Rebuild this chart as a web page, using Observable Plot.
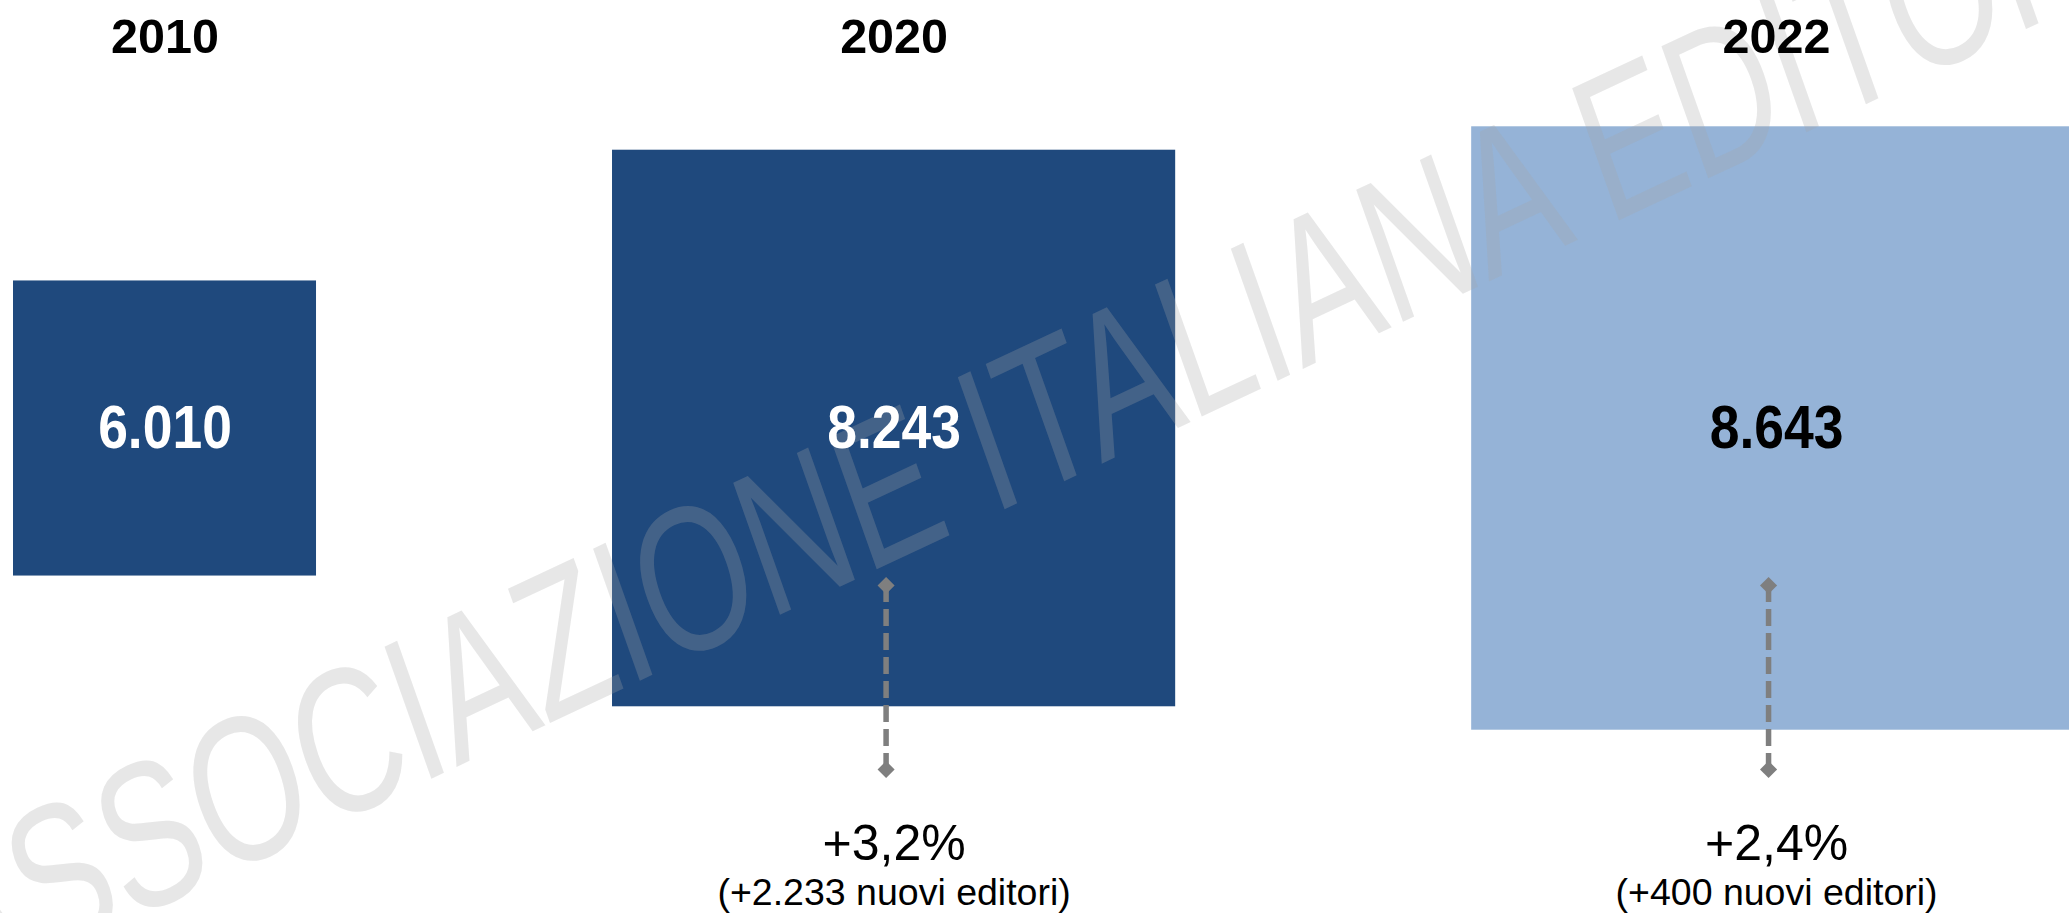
<!DOCTYPE html>
<html><head><meta charset="utf-8">
<script src="https://cdn.jsdelivr.net/npm/d3@7"></script>
<script src="https://cdn.jsdelivr.net/npm/@observablehq/plot@0.6"></script>
<style>
html,body{margin:0;padding:0;background:#fff;overflow:hidden}
svg{display:block}
</style></head><body><div id="chart"></div>
<script>
// ---- data ----
const years = ["2010", "2020", "2022"];
const editori = [6010, 8243, 8643];
const valueLabels = ["6.010", "8.243", "8.643"];
const growthPct = ["", "+3,2%", "+2,4%"];
const growthNew = ["", "(+2.233 nuovi editori)", "(+400 nuovi editori)"];
const watermarkText = "ASSOCIAZIONE ITALIANA EDITORI";

// ---- layout / style ----
const W = 2069, H = 913;
const palette = ["#1f497d", "#1f497d", "#95b3d7"];
const PXX = 0.1165, BASEX = 3409;   // square width:  px per editor, editors at zero width
const PXY = 0.1171, BASEY = 3490;   // square height: px per editor, editors at zero height
const ux = px => px / PXX, uy = px => px / PXY;
const GAP = ux(296), LEFT = ux(13), MID = uy(428);
const FONT = "'Liberation Sans', Arial, Helvetica, sans-serif";

let cursor = LEFT;
const data = years.map((year, i) => {
  const w = editori[i] - BASEX, h = editori[i] - BASEY;
  const x1 = cursor, x2 = cursor + w;
  cursor = x2 + GAP;
  return {year, value: editori[i], label: valueLabels[i], pct: growthPct[i], nuovi: growthNew[i],
          light: d3.hsl(palette[i]).l > 0.5,
          x1, x2, xc: (x1 + x2) / 2, y1: MID - h / 2, y2: MID + h / 2};
});
const growth = data.filter(d => d.pct);
const ends = growth.flatMap(d => [{xc: d.xc, y: MID + uy(157)}, {xc: d.xc, y: MID + uy(341)}]);

const watermarkMark = () => d3.create("svg:text")
    .attr("transform", "matrix(1.34,-0.63,0.68,1.92,-50,1005)")
    .attr("text-anchor", "start")
    .attr("font-family", FONT)
    .attr("font-size", 100)
    .attr("fill", "#a8a8a8")
    .attr("fill-opacity", 0.27)
    .text(watermarkText)
    .node();

const chart = Plot.plot({
  width: W, height: H, margin: 0,
  x: {type: "linear", domain: [0, ux(W)], range: [0, W], axis: null},
  y: {type: "linear", domain: [0, uy(H)], range: [0, H], axis: null},
  color: {type: "ordinal", domain: years, range: palette},
  style: {fontFamily: FONT, background: "#fff", overflow: "hidden"},
  marks: [
    Plot.rect(data, {x1: "x1", x2: "x2", y1: "y1", y2: "y2", fill: "year"}),
    Plot.ruleX(growth, {x: "xc", y1: MID + uy(157), y2: MID + uy(341), dx: -8,
      stroke: "#7f7f7f", strokeWidth: 5.5, strokeDasharray: "17,7"}),
    Plot.dot(ends, {x: "xc", y: "y", dx: -8, symbol: "diamond2", r: 7.7, fill: "#7f7f7f", stroke: "none"}),
    watermarkMark,
    Plot.text(data, {x: "xc", y: uy(52), text: "year", fontSize: 48.5, fontWeight: "bold",
      fill: "#000", lineAnchor: "bottom"}),
    Plot.text(data.filter(d => !d.light), {x: "xc", y: MID, text: "label", fontSize: 62, fontWeight: "bold",
      fill: "#fff", lineAnchor: "middle"}),
    Plot.text(data.filter(d => d.light), {x: "xc", y: MID, text: "label", fontSize: 62, fontWeight: "bold",
      fill: "#000", lineAnchor: "middle"}),
    Plot.text(growth, {x: "xc", y: MID + uy(431), text: "pct", fontSize: 50, fill: "#000", lineAnchor: "bottom"}),
    Plot.text(growth, {x: "xc", y: MID + uy(476), text: "nuovi", fontSize: 37.5, fill: "#000", lineAnchor: "bottom"})
  ]
});
// value labels are set in a narrow face: condense the glyphs horizontally
d3.select(chart).selectAll("text")
  .filter(function() { return valueLabels.includes(this.textContent); })
  .each(function() {
    const t = this.getAttribute("transform");
    if (t) {
      this.setAttribute("transform", t + " scale(0.862,1)");
    } else {
      const x = +this.getAttribute("x") || 0, y = +this.getAttribute("y") || 0;
      this.removeAttribute("x"); this.removeAttribute("y");
      this.setAttribute("transform", `translate(${x},${y}) scale(0.862,1)`);
    }
  });
document.getElementById("chart").appendChild(chart);
</script></body></html>
